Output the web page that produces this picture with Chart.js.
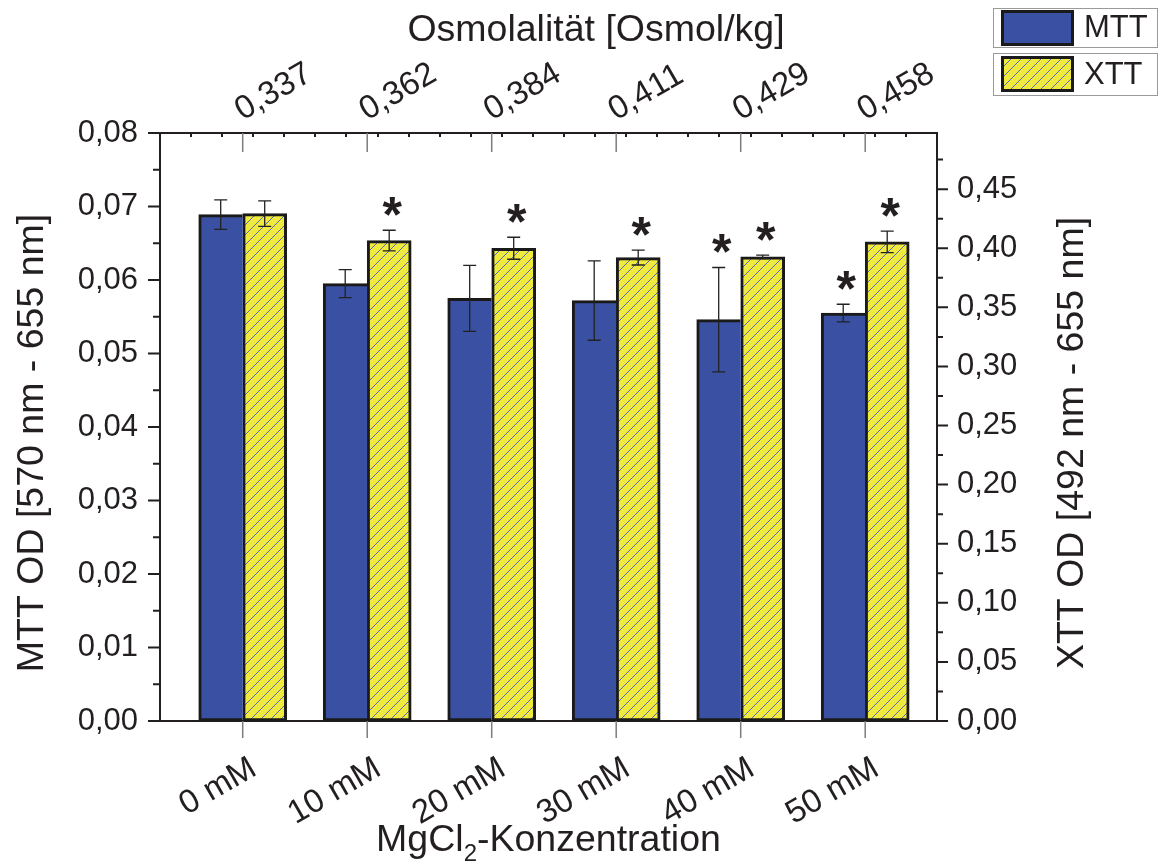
<!DOCTYPE html>
<html><head><meta charset="utf-8">
<script src="https://cdn.jsdelivr.net/npm/chart.js@4.4.1/dist/chart.umd.min.js"></script>
<style>html,body{margin:0;padding:0;background:#fff}#wrap{width:1160px;height:865px}</style>
</head><body><div id="wrap"><canvas id="c" width="1160" height="865"></canvas></div>
<script>
// ---------- data ----------
const categories = ['0 mM', '10 mM', '20 mM', '30 mM', '40 mM', '50 mM'];
const osmolality = ['0,337', '0,362', '0,384', '0,411', '0,429', '0,458'];
const mttValues = [0.0689, 0.0595, 0.0575, 0.0572, 0.0546, 0.0555];
const mttErrors = [0.0020, 0.0019, 0.0045, 0.0054, 0.0071, 0.0012];
const xttValues = [0.4293, 0.4065, 0.4000, 0.3921, 0.3927, 0.4054];
const xttErrors = [0.0108, 0.0087, 0.0093, 0.0063, 0.0015, 0.0091];
const mttSignificant = [false, false, false, false, true, true];
const xttSignificant = [false, true, true, true, true, true];
const mttTicks = [0, 0.01, 0.02, 0.03, 0.04, 0.05, 0.06, 0.07, 0.08];
const xttTicks = [0, 0.05, 0.10, 0.15, 0.20, 0.25, 0.30, 0.35, 0.40, 0.45];
const seriesNames = ['MTT', 'XTT'];

// ---------- styles ----------
const AX = '#231f20';
const BLUE = '#3a50a2';
const YELLOW = '#efea3d';
const HATCH = '#4a5cb3';
const FONT = "'Liberation Sans', Arial, Helvetica, sans-serif";
const fmt = v => v.toFixed(2).replace('.', ',');

const canvas = document.getElementById('c');
const ctx = canvas.getContext('2d');

function hatchPattern() {
  const s = 10;
  const c = document.createElement('canvas');
  c.width = s; c.height = s;
  const g = c.getContext('2d');
  g.fillStyle = YELLOW; g.fillRect(0, 0, s, s);
  g.strokeStyle = HATCH; g.lineWidth = 0.9;
  g.beginPath();
  g.moveTo(-2, s + 2); g.lineTo(s + 2, -2);
  g.moveTo(-2, 2); g.lineTo(2, -2);
  g.moveTo(s - 2, s + 2); g.lineTo(s + 2, s - 2);
  g.stroke();
  return ctx.createPattern(c, 'repeat');
}
const XPAT = hatchPattern();

const decor = {
  id: 'decor',
  afterDatasetsDraw(chart) {
    const c = chart.ctx;
    c.save();
    chart.data.datasets.forEach((ds, di) => {
      const meta = chart.getDatasetMeta(di);
      const ys = chart.scales[ds.yAxisID];
      meta.data.forEach((bar, i) => {
        const v = ds.data[i].y, e = ds.errors[i];
        const yt = ys.getPixelForValue(v + e), yb = ys.getPixelForValue(v - e);
        c.strokeStyle = '#222'; c.lineWidth = 1.3;
        c.beginPath();
        c.moveTo(bar.x, yt); c.lineTo(bar.x, yb);
        c.moveTo(bar.x - 6.5, yt); c.lineTo(bar.x + 6.5, yt);
        c.moveTo(bar.x - 6.5, yb); c.lineTo(bar.x + 6.5, yb);
        c.stroke();
        if (ds.sig[i]) {
          c.fillStyle = AX;
          c.font = 'bold 50px ' + FONT;
          c.textAlign = 'center'; c.textBaseline = 'alphabetic';
          c.fillText('*', bar.x + 3, yt - 27 + 0.575 * 50);
        }
      });
    });
    c.restore();
  },
  afterDraw(chart) {
    const c = chart.ctx, a = chart.chartArea;
    const y = chart.scales.y, y2 = chart.scales.y2, x = chart.scales.x;
    c.save();
    // axis ticks
    c.strokeStyle = AX; c.lineWidth = 2;
    c.beginPath();
    y.ticks.forEach((t, i) => {
      const p = y.getPixelForValue(t.value);
      c.moveTo(a.left - 12, p); c.lineTo(a.left, p);
      if (i < y.ticks.length - 1) {
        const m = y.getPixelForValue((t.value + y.ticks[i + 1].value) / 2);
        c.moveTo(a.left - 7, m); c.lineTo(a.left, m);
      }
    });
    const half = (y2.ticks[1].value - y2.ticks[0].value) / 2;
    y2.ticks.forEach(t => {
      const p = y2.getPixelForValue(t.value);
      c.moveTo(a.right, p); c.lineTo(a.right + 11, p);
      if (t.value + half < y2.max) {
        const m = y2.getPixelForValue(t.value + half);
        c.moveTo(a.right, m); c.lineTo(a.right + 6, m);
      }
    });
    const w = (a.right - a.left) / 25;
    for (let k = 1; k < 25; k++) {
      const px = Math.round(a.left + k * w);
      c.moveTo(px, a.top - 1); c.lineTo(px, a.top + 4);
    }
    c.stroke();
    c.strokeStyle = '#7d7d7d'; c.lineWidth = 1.5;
    c.beginPath();
    x.ticks.forEach(t => {
      const p = x.getPixelForValue(t.value);
      c.moveTo(p, a.bottom); c.lineTo(p, a.bottom + 17);
      c.moveTo(p, a.top); c.lineTo(p, a.top + 19);
    });
    c.stroke();

    // axis titles
    c.fillStyle = AX;
    c.font = '37.5px ' + FONT;
    c.textBaseline = 'alphabetic';
    c.textAlign = 'center';
    c.fillText('Osmolalität [Osmol/kg]', 596, 41);
    c.save(); c.translate(43, 443); c.rotate(-Math.PI / 2);
    c.fillText('MTT OD [570 nm - 655 nm]', 0, 0); c.restore();
    c.save(); c.translate(1083, 443); c.rotate(-Math.PI / 2);
    c.fillText('XTT OD [492 nm - 655 nm]', 0, 0); c.restore();
    // bottom title with subscript
    const p1 = 'MgCl', p2 = '2', p3 = '-Konzentration';
    c.font = '37.5px ' + FONT; const w1 = c.measureText(p1).width, w3 = c.measureText(p3).width;
    c.font = '24px ' + FONT; const w2 = c.measureText(p2).width;
    let sx = (a.left + a.right) / 2 - (w1 + w2 + w3) / 2;
    c.textAlign = 'left';
    c.font = '37.5px ' + FONT; c.fillText(p1, sx, 851);
    c.font = '24px ' + FONT; c.fillText(p2, sx + w1, 861);
    c.font = '37.5px ' + FONT; c.fillText(p3, sx + w1 + w2, 851);

    // legend
    const boxes = [{y: 8.5, h: 39, sy: 10, sh: 36, tb: 37}, {y: 53.5, h: 42, sy: 56, sh: 36, tb: 84}];
    chart.data.datasets.forEach((ds, i) => {
      const b = boxes[i];
      c.strokeStyle = '#9a9a9a'; c.lineWidth = 1;
      c.strokeRect(993.5, b.y, 164, b.h);
      c.fillStyle = ds.backgroundColor;
      c.fillRect(1001, b.sy, 73, b.sh);
      c.strokeStyle = '#1a1a1a'; c.lineWidth = 3;
      c.strokeRect(1002.5, b.sy + 1.5, 70, b.sh - 3);
      c.fillStyle = AX; c.font = '31px ' + FONT; c.textAlign = 'left';
      c.fillText(ds.label, 1084, b.tb);
    });
    c.restore();
  }
};

const tickFont = {family: FONT, size: 31};
const rotFont = {family: FONT, size: 33};

new Chart(ctx, {
  type: 'bar',
  data: {
    datasets: [
      {
        label: seriesNames[0], xAxisID: 'x', yAxisID: 'y',
        data: mttValues.map((v, i) => ({x: i, y: v})),
        errors: mttErrors, sig: mttSignificant,
        backgroundColor: BLUE, borderColor: '#1a1a1a',
        borderWidth: {top: 3, left: 3, bottom: 3, right: 0}, borderSkipped: false,
        barThickness: 44
      },
      {
        label: seriesNames[1], xAxisID: 'x', yAxisID: 'y2',
        data: xttValues.map((v, i) => ({x: i, y: v})),
        errors: xttErrors, sig: xttSignificant,
        backgroundColor: XPAT, borderColor: '#1a1a1a',
        borderWidth: 3, borderSkipped: false,
        barThickness: 44
      }
    ]
  },
  options: {
    responsive: false,
    animation: false,
    events: [],
    layout: {padding: 0},
    plugins: {legend: {display: false}, tooltip: {enabled: false}},
    scales: {
      x: {
        type: 'linear', position: 'bottom', min: -0.6643, max: 5.5767, offset: false,
        grid: {display: false, drawTicks: false},
        border: {display: true, color: AX, width: 2},
        afterBuildTicks: s => { s.ticks = categories.map((_, i) => ({value: i})); },
        ticks: {
          autoSkip: false, minRotation: 30, maxRotation: 30, padding: 28, labelOffset: 11,
          font: rotFont, color: AX,
          callback: v => categories[v]
        },
        afterFit: s => { s.height = 144; }
      },
      x2: {
        type: 'linear', position: 'top', min: -0.6643, max: 5.5767, offset: false,
        grid: {display: false, drawTicks: false},
        border: {display: true, color: AX, width: 2},
        afterBuildTicks: s => { s.ticks = osmolality.map((_, i) => ({value: i})); },
        ticks: {
          autoSkip: false, minRotation: 30, maxRotation: 30, padding: 3, labelOffset: 15,
          font: rotFont, color: AX,
          callback: v => osmolality[v]
        },
        afterFit: s => { s.height = 133; }
      },
      y: {
        type: 'linear', position: 'left', min: 0, max: 0.08,
        grid: {display: false, drawTicks: false},
        border: {display: true, color: AX, width: 2},
        afterBuildTicks: s => { s.ticks = mttTicks.map(v => ({value: v})); },
        ticks: {padding: 22, font: tickFont, color: AX, callback: v => fmt(v)},
        afterFit: s => { s.width = 160; }
      },
      y2: {
        type: 'linear', position: 'right', min: 0, max: 0.4975,
        grid: {display: false, drawTicks: false},
        border: {display: true, color: AX, width: 2},
        afterBuildTicks: s => { s.ticks = xttTicks.map(v => ({value: v})); },
        ticks: {padding: 20, font: tickFont, color: AX, callback: v => fmt(v)},
        afterFit: s => { s.width = 223; }
      }
    }
  },
  plugins: [decor]
});
</script>
</body></html>
